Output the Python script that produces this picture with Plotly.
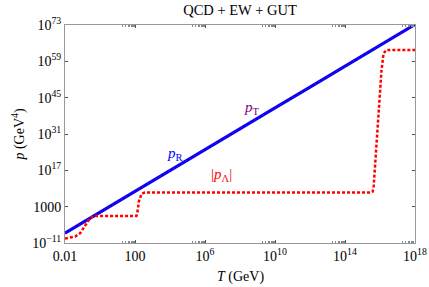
import numpy as np
import plotly.graph_objects as go

# log10(T / GeV) and log10(p / GeV^4)
logT_R = [-2, -1, 0, 1, 2, 3, 4, 6, 8, 10, 12, 14, 16, 18]
logp_R = [-7.2, -3.15, 0.9, 4.95, 9.0, 13.0, 17.05, 25.1, 33.1, 41.1, 49.1, 57.1, 65.15, 73.2]

logT_T = [-2, -1, 0, 1, 2, 3, 4, 6, 8, 10, 12, 14, 16, 18]
logp_T = [-7.2, -3.15, 0.9, 4.95, 9.0, 13.0, 17.05, 25.1, 33.1, 41.1, 49.1, 57.1, 65.15, 73.2]

logT_L = [-2.0, -1.94, -1.71, -1.43, -1.14, -0.95, -0.76, -0.57, -0.38, -0.2,
          2.08, 2.13, 2.22, 2.38, 2.57, 2.8,
          15.5, 15.58, 15.64, 15.70, 15.76, 15.82, 15.90, 15.98, 16.08, 16.2, 16.36, 18.0]
logp_L = [-9.25, -9.2, -8.96, -8.57, -7.26, -5.34, -3.41, -1.48, -0.6, -0.6,
          -0.6, 0.5, 5.0, 8.0, 8.5, 8.5,
          8.5, 8.8, 11.0, 17.1, 23.7, 30.0, 37.5, 46.0, 55.0, 62.0, 63.4, 63.4]

x_tickvals = [-2, 2, 6, 10, 14, 18]
x_ticktext = ["0.01", "100", "10<sup>6</sup>", "10<sup>10</sup>", "10<sup>14</sup>", "10<sup>18</sup>"]
y_tickvals = [-11, 3, 17, 31, 45, 59, 73]
y_ticktext = ["10<sup>\u221211</sup>", "1000", "10<sup>17</sup>", "10<sup>31</sup>",
              "10<sup>45</sup>", "10<sup>59</sup>", "10<sup>73</sup>"]

FONT = "Liberation Serif, Times New Roman, serif"
BLUE = "rgb(0,0,255)"
RED = "rgb(255,0,0)"
PURPLE = "rgb(128,0,128)"

def pw(a):
    return np.power(10.0, np.array(a, dtype=float))

# minor x ticks: 2..9 x 10^(k-1) just below each major decade tick
x_minor = [m * 10.0 ** (k - 1) for k in x_tickvals[1:] for m in range(2, 10)]

fig = go.Figure()
fig.add_trace(go.Scatter(x=pw(logT_R), y=pw(logp_R), mode="lines",
                         line=dict(color=BLUE, width=3.2), name="p_R", showlegend=False))
fig.add_trace(go.Scatter(x=pw(logT_T), y=pw(logp_T), mode="lines",
                         line=dict(color=PURPLE, width=1, dash="2px,3px"), name="p_T", showlegend=False))
fig.add_trace(go.Scatter(x=pw(logT_L), y=pw(logp_L), mode="lines",
                         line=dict(color=RED, width=2.5, dash="3px,2px"), name="|p_L|", showlegend=False))

axis_common = dict(type="log", showgrid=False, zeroline=False, showline=True,
                   linecolor="#999999", linewidth=1, mirror="ticks", ticks="inside",
                   ticklen=3, tickcolor="#555555", ticklabeloverflow="allow",
                   automargin=False,
                   tickfont=dict(family=FONT, size=14, color="black"))

fig.update_xaxes(range=[-2, 18], tickvals=pw(x_tickvals), ticktext=x_ticktext,
                 minor=dict(tickvals=x_minor, ticks="inside", ticklen=2, tickcolor="#888888", showgrid=False),
                 **axis_common)
fig.update_yaxes(range=[-11, 73], tickvals=pw(y_tickvals), ticktext=y_ticktext,
                 title=dict(text="<i>p</i> (GeV<sup>4</sup>)", font=dict(family=FONT, size=14, color="black"), standoff=4),
                 **axis_common)

# x-axis title placed as annotation so it can sit lower, as in the reference
fig.add_annotation(x=0.5, xref="paper", y=-34 / 218, yref="paper", yanchor="middle",
                   text="<i>T</i> (GeV)", showarrow=False,
                   font=dict(family=FONT, size=14, color="black"))

fig.add_annotation(x=4.3, y=23.3, text="<i>p</i><sub>R</sub>", showarrow=False,
                   font=dict(family=FONT, size=15, color=BLUE))
fig.add_annotation(x=8.67, y=40.9, text="<i>p</i><sub>T</sub>", showarrow=False,
                   font=dict(family=FONT, size=15, color=PURPLE))
fig.add_annotation(x=6.95, y=15.2, text="|<i>p</i><sub>\u039b</sub>|", showarrow=False,
                   font=dict(family=FONT, size=15, color=RED))

fig.update_layout(
    width=429, height=287,
    margin=dict(l=65, r=14, t=25, b=44),
    paper_bgcolor="white", plot_bgcolor="white",
    title=dict(text="QCD + EW + GUT", x=0.5, xref="paper", y=1 - 10 / 287, yref="container",
               yanchor="middle", font=dict(family=FONT, size=14.5, color="black")),
    showlegend=False,
)

fig.write_html("out.html", config={"displayModeBar": False},
               post_script="document.body.style.margin='0';document.body.style.overflow='hidden';")
